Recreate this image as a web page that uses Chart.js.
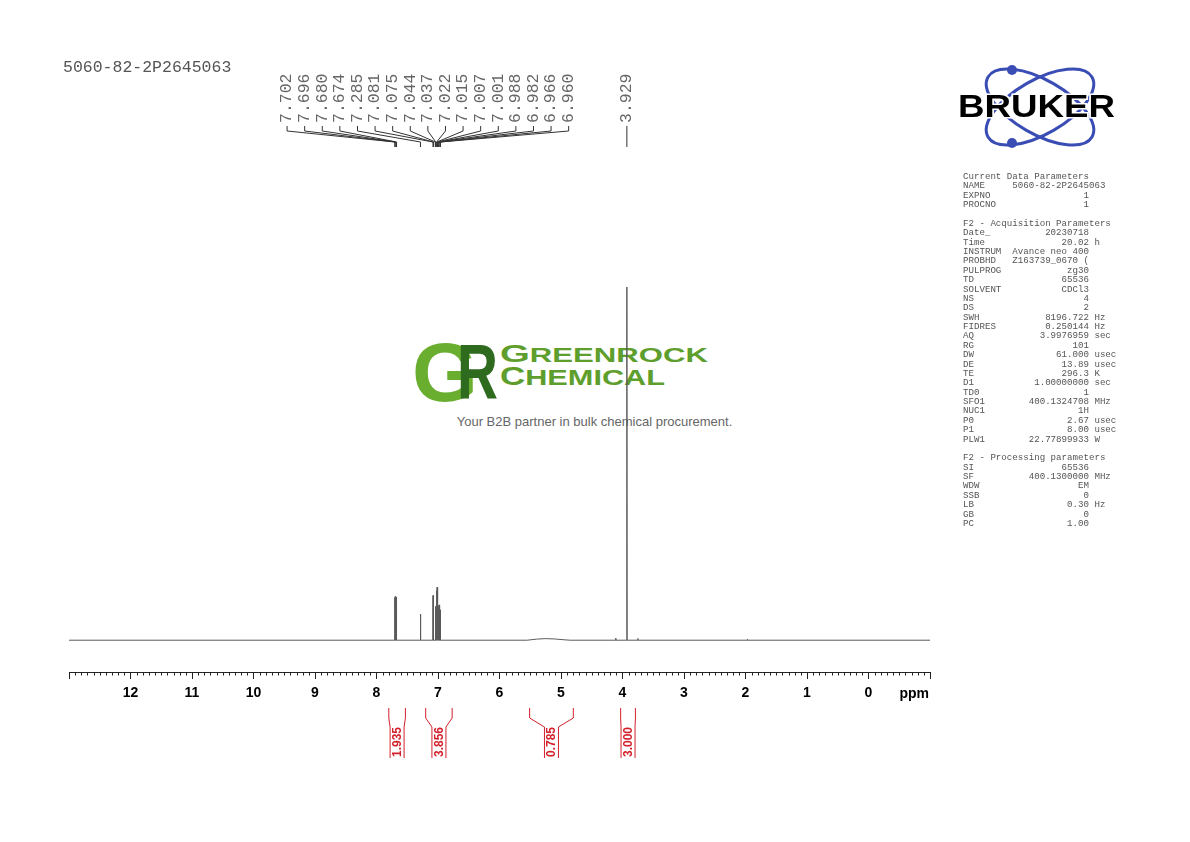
<!DOCTYPE html>
<html><head><meta charset="utf-8">
<script src="https://cdn.jsdelivr.net/npm/chart.js@4.4.1/dist/chart.umd.min.js"></script>
<style>
html,body{margin:0;padding:0;background:#fff;width:1190px;height:842px;overflow:hidden;}
#wrap{position:relative;width:1190px;height:842px;}
.abs{position:absolute;}
#c{position:absolute;left:0;top:0;z-index:2;}
#title{left:63px;top:58px;font:16.5px 'Liberation Mono',monospace;color:#555;z-index:3;white-space:pre;}
#params{left:963px;top:172px;margin:0;font:9.13px/9.37px 'Liberation Mono',monospace;color:#555;z-index:3;}
</style></head><body><div id="wrap">
<svg class="abs" style="left:0;top:0;z-index:1" width="1190" height="842">
  <text x="412" y="401" font-family="Liberation Sans" font-weight="bold" font-size="84" fill="#6aae30" textLength="66" lengthAdjust="spacingAndGlyphs">G</text>
  <text x="457" y="398" font-family="Liberation Sans" font-weight="bold" font-size="78" fill="#2e6b1e" textLength="41" lengthAdjust="spacingAndGlyphs">R</text>
  <text x="500" y="362" font-family="Liberation Sans" font-weight="bold" font-size="19.5" fill="#5e9e2c" textLength="208" lengthAdjust="spacingAndGlyphs"><tspan font-size="24">G</tspan>REENROCK</text>
  <text x="500" y="385" font-family="Liberation Sans" font-weight="bold" font-size="22" fill="#5e9e2c" textLength="165" lengthAdjust="spacingAndGlyphs"><tspan font-size="25">C</tspan>HEMICAL</text>
  <text x="594.5" y="426" text-anchor="middle" font-family="Liberation Sans" font-size="13" fill="#666">Your B2B partner in bulk chemical procurement.</text>
</svg>
<div id="title" class="abs">5060-82-2P2645063</div>
<svg class="abs" style="left:950px;top:55px;z-index:3" width="180" height="100">
  <g fill="none" stroke="#3a4db5" stroke-width="3">
    <ellipse cx="90" cy="52" rx="60" ry="27" transform="rotate(30 90 52)"/>
    <ellipse cx="90" cy="52" rx="60" ry="27" transform="rotate(-30 90 52)"/>
  </g>
  <circle cx="62" cy="15" r="5" fill="#3a4db5"/>
  <circle cx="62" cy="88" r="5" fill="#3a4db5"/>
  <text x="8" y="62" font-family="Liberation Sans" font-weight="bold" font-size="31" textLength="157" lengthAdjust="spacingAndGlyphs" fill="#000" stroke="#fff" stroke-width="3" paint-order="stroke">BRUKER</text>
</svg>
<pre id="params" class="abs"></pre>
<canvas id="c" width="1190" height="842"></canvas>
</div>
<script>
// ---- spectrum data (ppm, relative intensity; tallest = 100) ----
const peakPpm    = [7.702, 7.696, 7.680, 7.674, 7.285, 7.081, 7.075, 7.044, 7.037, 7.022, 7.015, 7.007, 7.001, 6.988, 6.982, 6.966, 6.960, 4.110, 3.929, 3.750, 1.970];
const peakHeight = [12.0, 12.4, 12.2, 11.6, 7.4, 12.6, 12.8, 9.2, 9.6, 14.0, 15.0, 11.0, 10.4, 9.6, 10.0, 8.6, 8.2, 0.6, 100, 0.5, 0.25];
const humpPpm    = [5.55, 5.40, 5.25, 5.10, 4.95, 4.85];
const humpHeight = [0, 0.3, 0.45, 0.35, 0.12, 0];
// ---- peak labels ----
const labelGroupA = [7.702, 7.696, 7.680, 7.674, 7.285, 7.081, 7.075, 7.044, 7.037, 7.022, 7.015, 7.007, 7.001, 6.988, 6.982, 6.966, 6.960];
const labelGroupB = [3.929];
// ---- integrals ----
const intFrom  = [7.80, 7.20, 5.51, 4.03];
const intTo    = [7.53, 6.77, 4.80, 3.79];
const intValue = ['1.935', '3.856', '0.785', '3.000'];
// ---- axis ----
const axisMin = -1, axisMax = 13;
const tickLabels = [0,1,2,3,4,5,6,7,8,9,10,11,12];
// ---- parameters ----
const paramCurrent = [['NAME','5060-82-2P2645063',''],['EXPNO','1',''],['PROCNO','1','']];
const paramAcq = [['Date_','20230718',''],['Time','20.02','h'],['INSTRUM','Avance neo 400',''],['PROBHD','Z163739_0670 (',''],['PULPROG','zg30',''],['TD','65536',''],['SOLVENT','CDCl3',''],['NS','4',''],['DS','2',''],['SWH','8196.722','Hz'],['FIDRES','0.250144','Hz'],['AQ','3.9976959','sec'],['RG','101',''],['DW','61.000','usec'],['DE','13.89','usec'],['TE','296.3','K'],['D1','1.00000000','sec'],['TD0','1',''],['SFO1','400.1324708','MHz'],['NUC1','1H',''],['P0','2.67','usec'],['P1','8.00','usec'],['PLW1','22.77899933','W']];
const paramProc = [['SI','65536',''],['SF','400.1300000','MHz'],['WDW','EM',''],['SSB','0',''],['LB','0.30','Hz'],['GB','0',''],['PC','1.00','']];

function fmt(r){ return r[0].padEnd(9) + r[1].padStart(14) + (r[2] ? ' ' + r[2] : ''); }
document.getElementById('params').textContent =
  ['Current Data Parameters'].concat(paramCurrent.map(fmt), [''], ['F2 - Acquisition Parameters'], paramAcq.map(fmt), [''], ['F2 - Processing parameters'], paramProc.map(fmt)).join('\n');

// build trace from peaks
const halfBase = 0.004;
const pieces = [];
peakPpm.forEach((p, i) => pieces.push({s: p + halfBase, pts: [{x: p + halfBase, y: 0}, {x: p, y: peakHeight[i]}, {x: p - halfBase, y: 0}]}));
pieces.push({s: humpPpm[0], pts: humpPpm.map((p, i) => ({x: p, y: humpHeight[i]}))});
pieces.sort((a, b) => b.s - a.s);
const trace = [{x: axisMax, y: 0}];
pieces.forEach(pc => pc.pts.forEach(pt => trace.push(pt)));
trace.push({x: axisMin, y: 0});

const nmrPlugin = {
  id: 'nmr',
  afterDraw(chart) {
    const ctx = chart.ctx, xs = chart.scales.x, ca = chart.chartArea;
    ctx.save();
    // minor ticks
    ctx.strokeStyle = '#222'; ctx.lineWidth = 1;
    ctx.beginPath();
    for (let i = axisMin * 10; i <= axisMax * 10; i++) {
      if (i % 10 === 0) continue;
      const x = Math.round(xs.getPixelForValue(i / 10)) + 0.5;
      ctx.moveTo(x, ca.bottom); ctx.lineTo(x, ca.bottom + 3.5);
    }
    ctx.stroke();
    // ppm
    ctx.fillStyle = '#000'; ctx.font = 'bold 14px "Liberation Sans"';
    ctx.textAlign = 'right'; ctx.textBaseline = 'alphabetic';
    ctx.fillText('ppm', ca.right - 1, 698);
    // peak labels
    const spacing = 17.6;
    ctx.font = '16.5px "Liberation Mono"'; ctx.fillStyle = '#666';
    ctx.strokeStyle = '#333';
    [labelGroupA, labelGroupB].forEach(grp => {
      const px = grp.map(p => xs.getPixelForValue(p));
      const mean = px.reduce((a, b) => a + b, 0) / px.length + (grp.length > 1 ? 1.5 : 0);
      grp.forEach((p, i) => {
        const lx = mean + (i - (grp.length - 1) / 2) * spacing;
        ctx.save();
        ctx.translate(lx, 123); ctx.rotate(-Math.PI / 2);
        ctx.textAlign = 'left'; ctx.textBaseline = 'middle';
        ctx.fillText(p.toFixed(3), 0, 0);
        ctx.restore();
        ctx.beginPath();
        ctx.moveTo(lx, 126); ctx.lineTo(lx, 131); ctx.lineTo(px[i], 142); ctx.lineTo(px[i], 147);
        ctx.stroke();
      });
    });
    // integrals
    ctx.strokeStyle = '#d3202b'; ctx.fillStyle = '#d3202b'; ctx.lineWidth = 1;
    ctx.font = 'bold 12px "Liberation Sans"';
    intFrom.forEach((f, i) => {
      const x1 = xs.getPixelForValue(f), x2 = xs.getPixelForValue(intTo[i]);
      const c = (x1 + x2) / 2, oh = (x2 - x1) / 2, ih = Math.min(oh, 7);
      [-1, 1].forEach(sg => {
        ctx.beginPath();
        ctx.moveTo(c + sg * oh, 708); ctx.lineTo(c + sg * oh, 718);
        ctx.lineTo(c + sg * ih, 727); ctx.lineTo(c + sg * ih, 758);
        ctx.stroke();
      });
      ctx.save();
      ctx.translate(c, 757); ctx.rotate(-Math.PI / 2);
      ctx.textAlign = 'left'; ctx.textBaseline = 'middle';
      ctx.fillText(intValue[i], 0, 0.5);
      ctx.restore();
    });
    ctx.restore();
  }
};

new Chart(document.getElementById('c'), {
  type: 'scatter',
  data: { datasets: [{ data: trace, showLine: true, borderColor: '#5a5a5a', borderWidth: 1, pointRadius: 0, tension: 0, fill: false }] },
  options: {
    responsive: false, animation: false,
    layout: { padding: { left: 69, right: 260, top: 287, bottom: 0 } },
    plugins: { legend: { display: false }, tooltip: { enabled: false } },
    scales: {
      x: {
        type: 'linear', reverse: true, min: axisMin, max: axisMax,
        afterFit: s => { s.height = 170; },
        border: { display: true, color: '#222', width: 1 },
        grid: { drawOnChartArea: false, drawTicks: true, tickLength: 7, color: '#222' },
        ticks: {
          stepSize: 1, autoSkip: false, maxRotation: 0, padding: 6, color: '#000',
          font: { family: 'Liberation Sans', size: 14, weight: 'bold' },
          callback: v => tickLabels.includes(v) ? String(v) : ''
        }
      },
      y: { display: false, min: -9, max: 100 }
    }
  },
  plugins: [nmrPlugin]
});
</script>
</body></html>
